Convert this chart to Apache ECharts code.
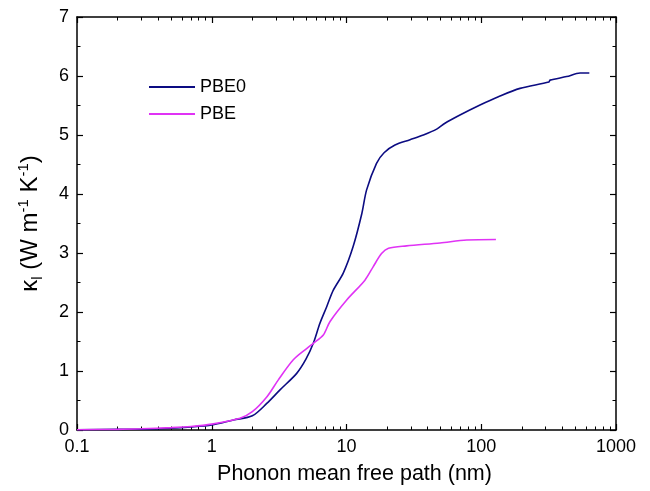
<!DOCTYPE html>
<html>
<head>
<meta charset="utf-8">
<script src="https://cdn.jsdelivr.net/npm/echarts@6/dist/echarts.min.js"></script>
<style>
  html, body { margin: 0; padding: 0; background: #fff; }
  #chart { width: 650px; height: 491px; }
</style>
</head>
<body>
<div id="chart"></div>
<script>
// PBE0 curve (mean free path nm, kappa)
const pbe0X = [0.1, 0.2, 0.3, 0.5, 0.7, 1, 1.45, 2, 2.56, 3.21, 4.27, 5, 5.67, 6.35, 7.13, 7.98, 9.46, 11.2, 13.0, 14.1, 16.7, 19, 22.9, 29.6, 37.2, 46.7, 53.8, 69.5, 97.9, 134, 194, 318, 324, 430, 541, 634];
const pbe0Y = [0.005, 0.01, 0.015, 0.03, 0.05, 0.085, 0.17, 0.24, 0.45, 0.68, 0.96, 1.2, 1.47, 1.81, 2.09, 2.37, 2.66, 3.11, 3.67, 4.07, 4.52, 4.7, 4.83, 4.92, 5.0, 5.10, 5.20, 5.34, 5.51, 5.65, 5.79, 5.90, 5.93, 5.99, 6.05, 6.05];

// PBE curve
const pbeX = [0.1, 0.2, 0.3, 0.5, 0.7, 1, 1.62, 2, 2.56, 3.12, 4.03, 5.06, 5.67, 6.73, 7.55, 10.0, 13.7, 15.8, 18.2, 20.5, 27.9, 49.4, 78.0, 128.5];
const pbeY = [0.005, 0.01, 0.02, 0.04, 0.06, 0.1, 0.2, 0.31, 0.56, 0.85, 1.19, 1.38, 1.47, 1.61, 1.84, 2.20, 2.54, 2.77, 2.99, 3.08, 3.12, 3.17, 3.22, 3.23];

const seriesNames = ['PBE0', 'PBE'];
const xTickLabels = ['0.1', '1', '10', '100', '1000'];

const font = 'Liberation Sans, Arial, sans-serif';
const chart = echarts.init(document.getElementById('chart'));

const frameX = (pos, showLabel) => ({
  type: 'log',
  logBase: 10,
  min: 0.1,
  max: 1000,
  position: pos,
  name: showLabel ? 'Phonon mean free path (nm)' : '',
  nameLocation: 'middle',
  nameGap: 33,
  nameTextStyle: { fontFamily: font, fontSize: 21.5, color: '#000', padding: [0, 0, 0, 16] },
  axisLine: { show: true, onZero: false, lineStyle: { color: '#000', width: 1.5 } },
  axisTick: { show: true, inside: true, length: 6, lineStyle: { color: '#000', width: 1.2 } },
  minorTick: { show: true, splitNumber: 9, length: 3.5, lineStyle: { color: '#000', width: 1 } },
  splitLine: { show: false },
  minorSplitLine: { show: false },
  axisLabel: {
    show: showLabel,
    margin: 8,
    fontFamily: font,
    fontSize: 18,
    color: '#000',
    formatter: v => xTickLabels.find(t => Math.abs(parseFloat(t) - v) < 1e-6 * v) || ''
  }
});

const frameY = (pos, showLabel) => ({
  type: 'value',
  min: 0,
  max: 7,
  interval: 1,
  position: pos,
  name: showLabel ? '{b|κ}{sub|l}{b| (W m}{sup|-1}{b| K}{sup|-1}{b|)}' : '',
  nameLocation: 'middle',
  nameGap: 30,
  nameRotate: 90,
  nameTextStyle: {
    fontFamily: font,
    color: '#000',
    rich: {
      b: { fontFamily: font, fontSize: 24, color: '#000', lineHeight: 34, verticalAlign: 'middle' },
      sub: { fontFamily: font, fontSize: 15, color: '#000', lineHeight: 34, verticalAlign: 'bottom', padding: [0, 0, 2, 0] },
      sup: { fontFamily: font, fontSize: 15, color: '#000', lineHeight: 34, verticalAlign: 'top', padding: [3, 0, 0, 0] }
    }
  },
  axisLine: { show: true, onZero: false, lineStyle: { color: '#000', width: 1.5 } },
  axisTick: { show: true, inside: true, length: 6, lineStyle: { color: '#000', width: 1.2 } },
  minorTick: { show: true, splitNumber: 2, length: 3.5, lineStyle: { color: '#000', width: 1 } },
  splitLine: { show: false },
  axisLabel: { show: showLabel, margin: 8, fontFamily: font, fontSize: 18, color: '#000' }
});

const option = {
  backgroundColor: '#fff',
  animation: false,
  grid: { left: 77, right: 34, top: 17, bottom: 61 },
  legend: {
    data: seriesNames,
    orient: 'vertical',
    left: 144,
    top: 73,
    icon: 'rect',
    itemWidth: 46,
    itemHeight: 2,
    itemGap: 9,
    textStyle: { fontFamily: font, fontSize: 18, color: '#000' }
  },
  xAxis: [frameX('bottom', true), frameX('top', false)],
  yAxis: [frameY('left', true), frameY('right', false)],
  series: [
    {
      name: seriesNames[0],
      type: 'line',
      symbol: 'none',
      smooth: 0.3,
      data: pbe0X.map((x, i) => [x, pbe0Y[i]]),
      lineStyle: { color: '#0c0c82', width: 1.6 },
      itemStyle: { color: '#0c0c82' }
    },
    {
      name: seriesNames[1],
      type: 'line',
      symbol: 'none',
      smooth: 0.3,
      data: pbeX.map((x, i) => [x, pbeY[i]]),
      lineStyle: { color: '#e033f5', width: 1.6 },
      itemStyle: { color: '#e033f5' }
    }
  ]
};

chart.setOption(option);
</script>
</body>
</html>
